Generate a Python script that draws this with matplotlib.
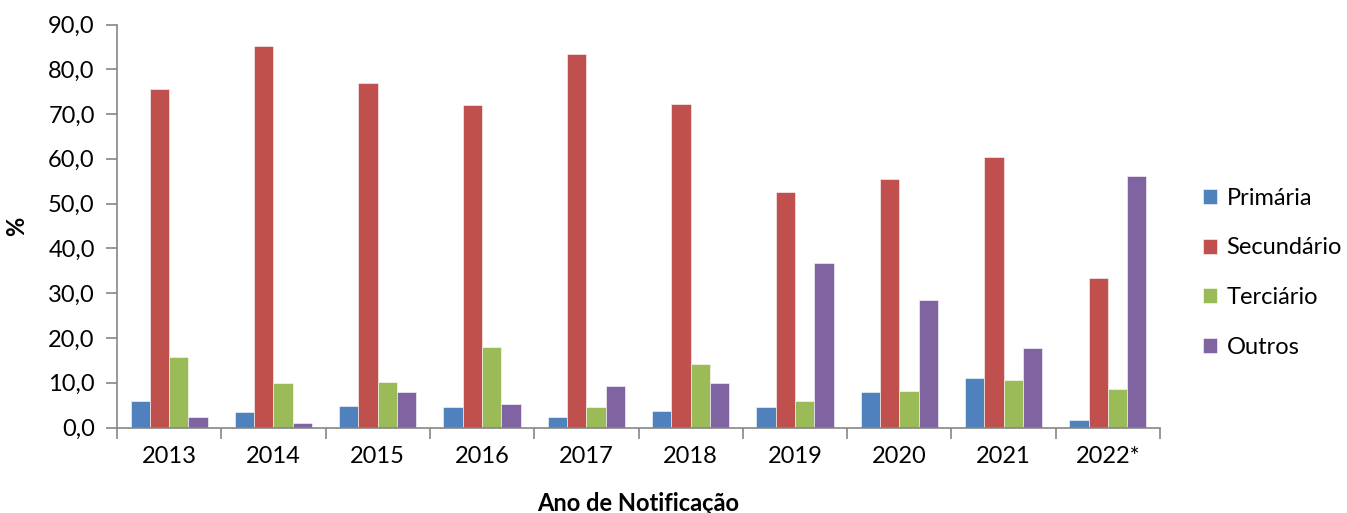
import matplotlib.pyplot as plt
import numpy as np

years = ["2013", "2014", "2015", "2016", "2017", "2018", "2019", "2020", "2021", "2022*"]
primaria = [5.9, 3.4, 4.8, 4.6, 2.3, 3.6, 4.6, 7.9, 11.0, 1.6]
secundario = [75.7, 85.3, 77.0, 72.0, 83.5, 72.3, 52.6, 55.5, 60.5, 33.3]
terciario = [15.8, 9.9, 10.2, 17.9, 4.6, 14.2, 5.9, 8.1, 10.6, 8.7]
outros = [2.3, 1.0, 7.9, 5.3, 9.3, 9.9, 36.7, 28.4, 17.7, 56.1]

series = [("Primária", primaria, "#4f81bd"),
          ("Secundário", secundario, "#c0504d"),
          ("Terciário", terciario, "#9bbb59"),
          ("Outros", outros, "#8064a2")]

plt.rcParams['font.family'] = ['Lato', 'DejaVu Sans']

fig = plt.figure(figsize=(13.47, 5.13), dpi=100)
ax = fig.add_axes([117/1347, 1 - 427.5/513, (1160-117)/1347, (427.5-24.5)/513])

x = np.arange(len(years))
w = 0.185
for i, (name, vals, col) in enumerate(series):
    ax.bar(x + (i - 1.5) * w, vals, w, color=col, label=name, edgecolor='white', linewidth=0.4)

ax.set_xlim(-0.5, len(years) - 0.5)
ax.set_ylim(0, 90)
ax.set_yticks(np.arange(0, 91, 10))
ax.set_yticklabels([f"{v:.1f}".replace(".", ",") for v in np.arange(0, 91, 10)], fontsize=17)
ax.set_xticks(x)
ax.set_xticklabels(years, fontsize=17)
ax.set_xticks(np.arange(-0.5, len(years)), minor=True)
ax.tick_params(axis='x', which='major', length=0, pad=13)
ax.tick_params(axis='x', which='minor', length=8, color='#868686', width=1.2)
ax.tick_params(axis='y', length=8, color='#868686', width=1.2, pad=8)

for s in ['top', 'right']:
    ax.spines[s].set_visible(False)
for s in ['left', 'bottom']:
    ax.spines[s].set_color('#868686')
    ax.spines[s].set_linewidth(1.2)

ax.set_xlabel("Ano de Notificação", fontsize=17, fontweight='bold', labelpad=18)
ax.set_ylabel("%", fontsize=17, fontweight='bold', labelpad=14)

ax.legend(loc='center left', bbox_to_anchor=(1.032, 0.384), frameon=False, fontsize=17,
          handlelength=0.6, handleheight=0.6, labelspacing=1.22, handletextpad=0.4,
          borderaxespad=0)

fig.savefig("out.png", dpi=100)
